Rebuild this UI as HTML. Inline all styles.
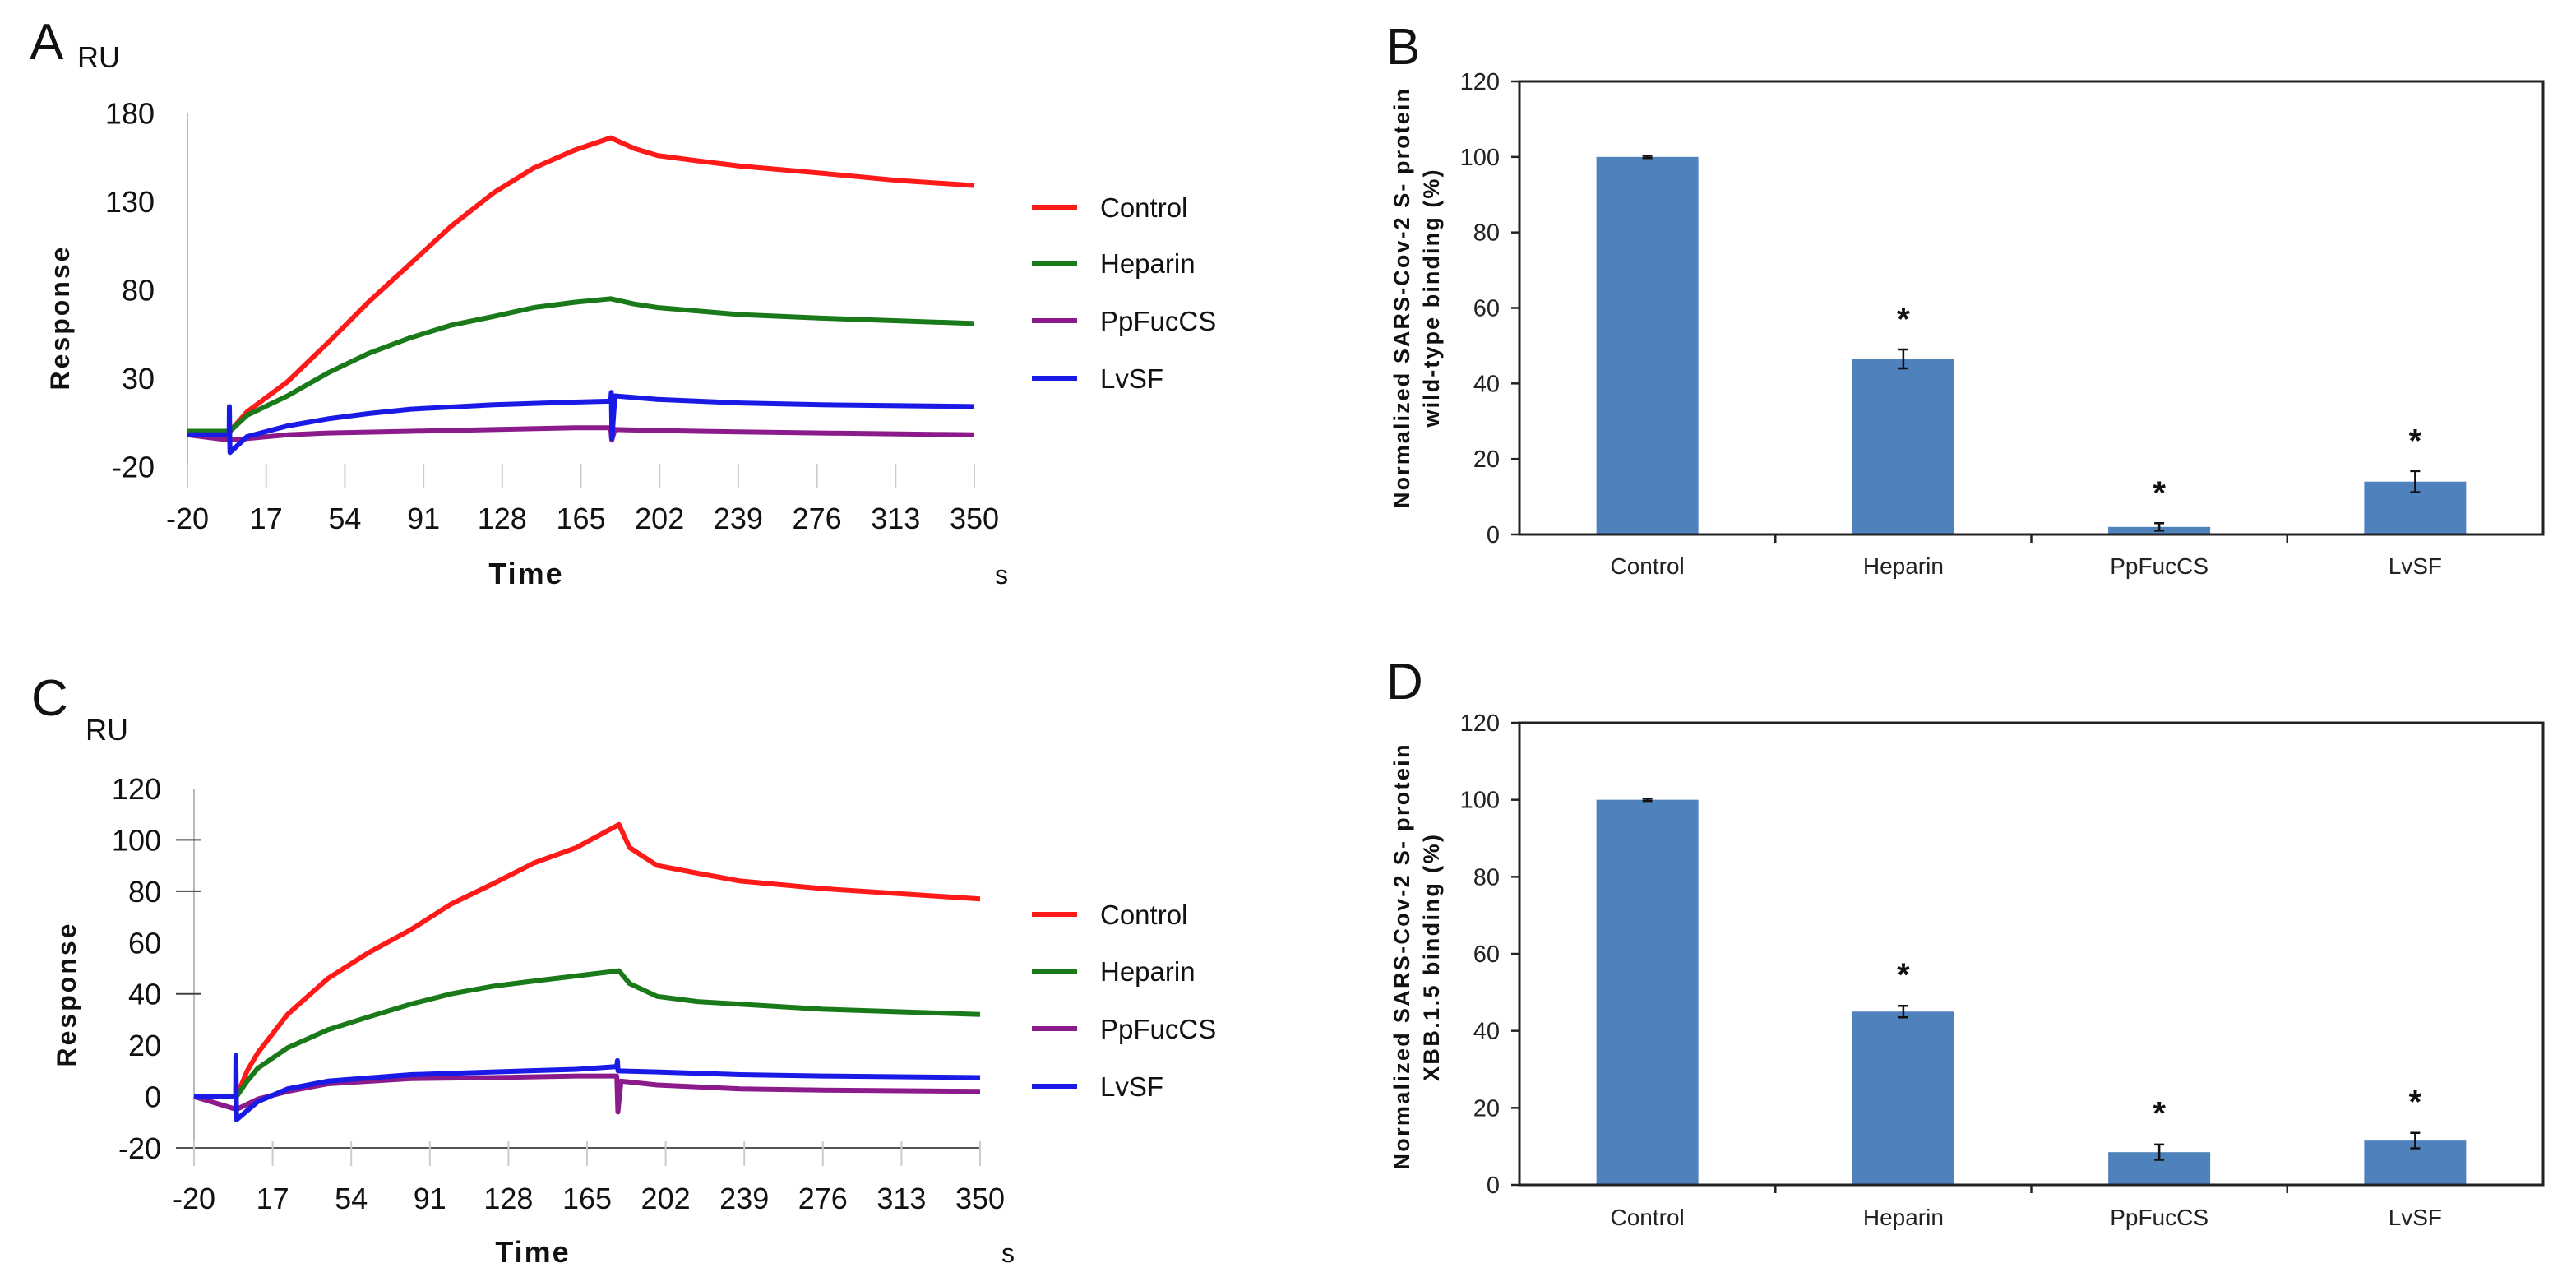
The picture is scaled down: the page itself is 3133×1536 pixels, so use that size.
<!DOCTYPE html>
<html><head><meta charset="utf-8"><style>
html,body{margin:0;padding:0;background:#fff;}
svg{display:block;font-family:"Liberation Sans",sans-serif;}
</style></head><body>
<svg id="fig" width="3133" height="1536" viewBox="0 0 3133 1536" xmlns="http://www.w3.org/2000/svg"></svg>
<script>
// ---------- Panel A data (SPR sensorgram, wild-type) ----------
const A_xTicks = [-20,17,54,91,128,165,202,239,276,313,350];
const A_yTicks = [180,130,80,30,-20];
const A_ctrl_t = [-20,0,8,27,46,65,85,104,124,143,162,179,190,201,220,240,278,313,350];
const A_ctrl_v = [0,0,11,28,50,73,95,116,135,149,159,166,160,156,153,150,146,142,139];
const A_hep_t  = [-20,0,8,27,46,65,85,104,124,143,162,179,190,201,220,240,278,350];
const A_hep_v  = [0,0,9,20,33,44,53,60,65,70,73,75,72,70,68,66,64,61];
const A_pp_t   = [-20,0,27,46,85,124,162,179,179.5,181,220,278,350];
const A_pp_v   = [-2,-5,-2,-1,0,1,2,2,-5,1,0,-1,-2];
const A_lv_t   = [-20,-0.4,-0.3,0,8,27,46,65,85,124,162,179,179.3,179.6,181,201,240,278,350];
const A_lv_v   = [-2,-2,14,-12,-3,3,7,10,12.5,15,16.5,17,22,-4,20,18,16,15,14];
// ---------- Panel C data (SPR sensorgram, XBB.1.5) ----------
const C_xTicks = [-20,17,54,91,128,165,202,239,276,313,350];
const C_yTicks = [120,100,80,60,40,20,0,-20];
const C_ctrl_t = [-20,0,5,10,24,43,62,82,101,121,140,160,180,185,198,217,237,276,313,350];
const C_ctrl_v = [0,0,10,17,32,46,56,65,75,83,91,97,106,97,90,87,84,81,79,77];
const C_hep_t  = [-20,0,5,10,24,43,62,82,101,121,140,160,180,185,198,217,237,276,350];
const C_hep_v  = [0,0,6,11,19,26,31,36,40,43,45,47,49,44,39,37,36,34,32];
const C_pp_t   = [-20,0,10,24,43,82,121,160,179,179.5,181,198,237,276,350];
const C_pp_v   = [0,-5,-1,2,5,7,7.4,8,8,-6,6,4.5,3,2.5,2];
const C_lv_t   = [-20,-0.4,-0.3,0,10,24,43,82,121,160,179,179.3,179.6,198,237,276,350];
const C_lv_v   = [0,0,16,-9,-2,3,6,8.5,9.6,10.6,11.7,14,10,9.6,8.5,8,7.4];
// ---------- Panel B / D data (bar charts) ----------
const categories = ["Control","Heparin","PpFucCS","LvSF"];
const B_values = [100,46.5,2,14];
const B_errors = [0.3,2.5,1,2.8];
const B_sig    = [false,true,true,true];
const D_values = [100,45,8.5,11.5];
const D_errors = [0.3,1.5,2,2];
const D_sig    = [false,true,true,true];
const barTicks = [0,20,40,60,80,100,120];
const legendNames = ["Control","Heparin","PpFucCS","LvSF"];

const NS="http://www.w3.org/2000/svg";
const svg=document.getElementById('fig');
function el(tag,attrs,parent,text){const e=document.createElementNS(NS,tag);for(const k in attrs)e.setAttribute(k,attrs[k]);if(text!==undefined)e.textContent=text;(parent||svg).appendChild(e);return e;}

function sensor(cfg){
  const g=el('g',{});
  
  
  const x=t=>cfg.x0+(t-(-20))*(cfg.x1-cfg.x0)/370;
  const y=v=>cfg.y0+(v-cfg.ymin)*(cfg.yTop-cfg.y0)/(cfg.ymax-cfg.ymin);
  const L=el('text',{x:cfg.lx,y:cfg.ly,'font-size':62,fill:'#111'},g,cfg.letter);
  
  
  const ru=el('text',{x:cfg.rux,y:cfg.ruy,'font-size':36,fill:'#111'},g,'RU');
  
  
  const ax=el('line',{x1:cfg.x0,x2:cfg.x0,y1:y(cfg.ymax),y2:cfg.axisBottom,stroke:'#bbb','stroke-width':2},g);
  
  
  if(cfg.hline){
    const hl=el('line',{x1:cfg.x0-22,x2:cfg.x1,y1:y(cfg.ymin),y2:y(cfg.ymin),stroke:'#555','stroke-width':2},g);
    
    
  }
  cfg.yTicks.forEach(v=>{
    const t=el('text',{x:cfg.x0-40,y:y(v)+13,'font-size':36,'text-anchor':'end',fill:'#111'},g,String(v));
    
    
    if(cfg.darkTicks && cfg.darkTicks.includes(v)){
      const tk=el('line',{x1:cfg.x0-22,x2:cfg.x0+8,y1:y(v),y2:y(v),stroke:'#444','stroke-width':2},g);
      
      
    }
  });
  cfg.xTicks.forEach(v=>{
    const tk=el('line',{x1:x(v),x2:x(v),y1:cfg.axisBottom-30,y2:cfg.axisBottom,stroke:'#ccc','stroke-width':2},g);
    
    
    const t=el('text',{x:x(v),y:cfg.xlabY,'font-size':36,'text-anchor':'middle',fill:'#111'},g,String(v));
    
    
  });
  const yt=el('text',{x:0,y:0,'font-size':32,'font-weight':'bold','text-anchor':'middle',fill:'#111','letter-spacing':3,transform:`translate(${cfg.ytx},${cfg.yty}) rotate(-90)`},g,'Response');
  
  
  const xt=el('text',{x:cfg.txx,y:cfg.txy,'font-size':36,'font-weight':'bold','text-anchor':'middle',fill:'#111','letter-spacing':2},g,'Time');
  
  
  const su=el('text',{x:cfg.sx,y:cfg.txy,'font-size':32,'text-anchor':'middle',fill:'#111'},g,'s');
  
  
  const colors=['#ff1a1a','#1a7a1a','#8b1a8b','#1a1ae6'];
  const series=[[cfg.pp_t,cfg.pp_v,2],[cfg.ctrl_t,cfg.ctrl_v,0],[cfg.hep_t,cfg.hep_v,1],[cfg.lv_t,cfg.lv_v,3]];
  const names=['series-control','series-heparin','series-ppfuccs','series-lvsf'];
  series.forEach(([ts,vs,ci])=>{
    let d='';
    ts.forEach((t,i)=>{d+=(i?'L':'M')+x(t).toFixed(1)+' '+y(vs[i]).toFixed(1)+' ';});
    const p=el('path',{d:d,fill:'none',stroke:colors[ci],'stroke-width':6,'stroke-linejoin':'round'},g);
    
    
  });
  legendNames.forEach((n,i)=>{
    const ly=cfg.legY[i];
    const ln=el('line',{x1:1255,x2:1310,y1:ly,y2:ly,stroke:colors[i],'stroke-width':6},g);
    
    
    const tx=el('text',{x:1338,y:ly+12,'font-size':33,fill:'#111'},g,n);
    
    
  });
}

sensor({name:'panel-a-sensorgram',letter:'A',lx:36,ly:72,rux:94,ruy:82,x0:228,x1:1185,ymin:-20,ymax:180,y0:567.5,yTop:137.5,
  axisBottom:594,xlabY:643,yTicks:A_yTicks,xTicks:A_xTicks,ytx:84,yty:386,txx:640,txy:710,sx:1218,
  ctrl_t:A_ctrl_t,ctrl_v:A_ctrl_v,hep_t:A_hep_t,hep_v:A_hep_v,pp_t:A_pp_t,pp_v:A_pp_v,lv_t:A_lv_t,lv_v:A_lv_v,
  legY:[252,320,390,460],darkTicks:[],hline:false});
sensor({name:'panel-c-sensorgram',letter:'C',lx:38,ly:870,rux:104,ruy:900,x0:236,x1:1192,ymin:-20,ymax:120,y0:1396,yTop:959,
  axisBottom:1418,xlabY:1470,yTicks:C_yTicks,xTicks:C_xTicks,ytx:92,yty:1209,txx:648,txy:1535,sx:1226,
  ctrl_t:C_ctrl_t,ctrl_v:C_ctrl_v,hep_t:C_hep_t,hep_v:C_hep_v,pp_t:C_pp_t,pp_v:C_pp_v,lv_t:C_lv_t,lv_v:C_lv_v,
  legY:[1112,1181,1251,1321],darkTicks:[100,80,40],hline:true});

function bars(cfg){
  const g=el('g',{});
  
  
  const L0=1848,R0=3093;
  const y=v=>cfg.yb+(cfg.yt-cfg.yb)*v/120;
  const band=(R0-L0)/categories.length;
  const cx=i=>L0+band*(i+0.5);
  const L=el('text',{x:1686,y:cfg.ly,'font-size':62,fill:'#111'},g,cfg.letter);
  
  
  barTicks.forEach(v=>{
    const tk=el('line',{x1:L0-10,x2:L0,y1:y(v),y2:y(v),stroke:'#222','stroke-width':2.5},g);
    
    
    const t=el('text',{x:L0-24,y:y(v)+10,'font-size':29,'text-anchor':'end',fill:'#222'},g,String(v));
    
    
  });
  cfg.values.forEach((v,i)=>{
    const b=el('rect',{x:cx(i)-62,y:y(v),width:124,height:y(0)-y(v),fill:'#4f81bd'},g);
    
    
    const e=cfg.errors[i];
    const eb=el('path',{d:`M${cx(i)} ${y(v+e)} L${cx(i)} ${y(v-e)} M${cx(i)-6} ${y(v+e)} L${cx(i)+6} ${y(v+e)} M${cx(i)-6} ${y(v-e)} L${cx(i)+6} ${y(v-e)}`,stroke:'#111','stroke-width':2.5,fill:'none'},g);
    
    
    if(cfg.sig[i]){
      const s=el('text',{x:cx(i),y:y(v+e+9)+18,'font-size':40,'font-weight':'bold','text-anchor':'middle',fill:'#111'},g,'*');
      
      
    }
    const t=el('text',{x:cx(i),y:cfg.labY,'font-size':28,'text-anchor':'middle',fill:'#222'},g,categories[i]);
    
    
    if(i>0){
      const tk=el('line',{x1:L0+band*i,x2:L0+band*i,y1:y(0),y2:y(0)+10,stroke:'#222','stroke-width':2.5},g);
      
      
    }
  });
  const box=el('rect',{x:L0,y:y(120),width:R0-L0,height:y(0)-y(120),fill:'none',stroke:'#222','stroke-width':3},g);
  
  
  const t1=el('text',{x:0,y:0,'font-size':27,'font-weight':'bold','text-anchor':'middle',fill:'#111',textLength:cfg.len1,lengthAdjust:'spacing',transform:`translate(1714,${cfg.c1}) rotate(-90)`},g,'Normalized  SARS-Cov-2  S-  protein');
  
  
  const t2=el('text',{x:0,y:0,'font-size':27,'font-weight':'bold','text-anchor':'middle',fill:'#111',textLength:cfg.len2,lengthAdjust:'spacing',transform:`translate(1750,${cfg.c2}) rotate(-90)`},g,cfg.line2);
  
  
}
bars({name:'panel-b-bar-chart',letter:'B',ly:78,yt:99,yb:650,labY:698,values:B_values,errors:B_errors,sig:B_sig,line2:'wild-type  binding  (%)',c1:363,c2:363,len1:510,len2:313});
bars({name:'panel-d-bar-chart',letter:'D',ly:850,yt:879,yb:1441,labY:1490,values:D_values,errors:D_errors,sig:D_sig,line2:'XBB.1.5  binding  (%)',c1:1164,c2:1165,len1:517,len2:300});
</script>
</body></html>
